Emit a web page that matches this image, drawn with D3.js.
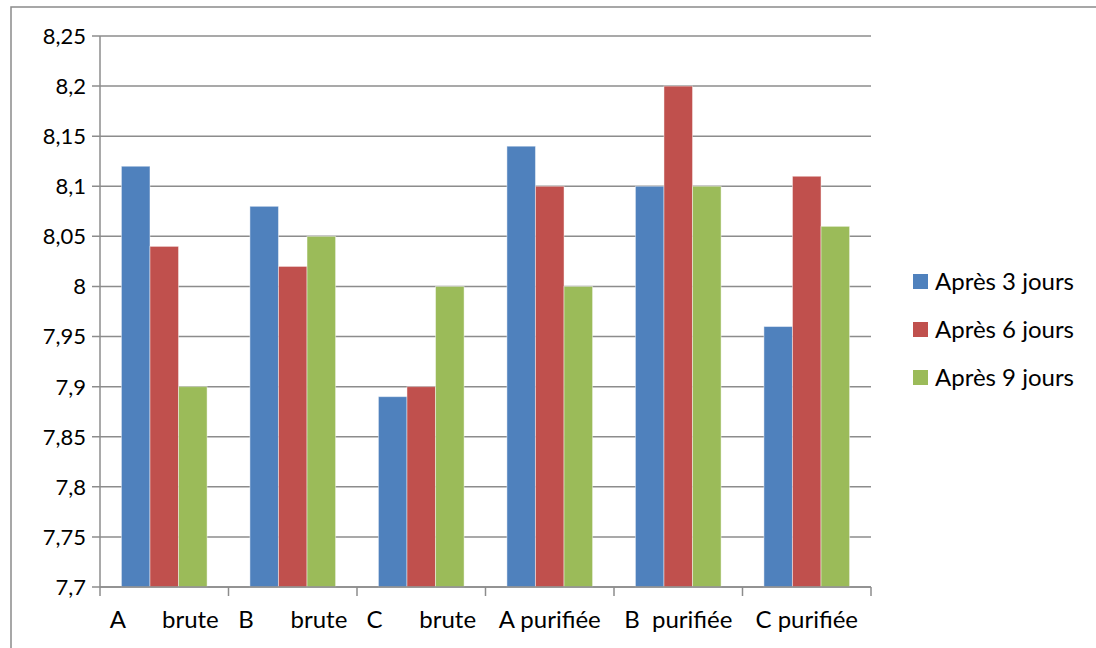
<!DOCTYPE html>
<html><head><meta charset="utf-8">
<script src="https://cdn.jsdelivr.net/npm/d3@7"></script>
<style>body{margin:0;background:#fff}svg{display:block}text{font-family:Lato,"Open Sans",sans-serif;fill:#000}</style>
</head><body>
<svg id="c" width="1096" height="648"></svg>
<script>
const categories = ["A      brute", "B      brute", "C      brute", "A purifiée", "B  purifiée", "C purifiée"];
const seriesNames = ["Après 3 jours", "Après 6 jours", "Après 9 jours"];
const after3 = [8.12, 8.08, 7.89, 8.14, 8.10, 7.96];
const after6 = [8.04, 8.02, 7.90, 8.10, 8.20, 8.11];
const after9 = [7.90, 8.05, 8.00, 8.00, 8.10, 8.06];
const yTicks = [7.7, 7.75, 7.8, 7.85, 7.9, 7.95, 8, 8.05, 8.1, 8.15, 8.2, 8.25];
const colors = ["#4F81BD", "#C0504D", "#9BBB59"];
const series = [after3, after6, after9];

(function(){
const svg = d3.select("#c");
svg.append("rect").attr("x",11).attr("y",7).attr("width",1100).attr("height",700)
  .attr("fill","none").attr("stroke","#8a8a8a").attr("stroke-width",1.5);

const pl=100, pr=871, pt=36, pb=587;
const x = d3.scaleBand().domain(d3.range(categories.length)).range([pl,pr]);
const y = d3.scaleLinear().domain([7.7,8.25]).range([pb,pt]);
const fmt = v => d3.format(".2~f")(v).replace(".",",");

svg.append("g").selectAll("line").data(yTicks).join("line")
  .attr("x1",pl-8).attr("x2",pr).attr("y1",d=>y(d)).attr("y2",d=>y(d))
  .attr("stroke","#8c8c8c").attr("stroke-width",1.5);

const bw = x.bandwidth()/4.5;
const off = x.bandwidth()*0.75/4.5;
series.forEach((s,si)=>{
  svg.append("g").selectAll("rect").data(s).join("rect")
    .attr("x",(d,i)=>x(i)+off+bw*si)
    .attr("y",d=>y(d)).attr("width",bw).attr("height",d=>pb-y(d))
    .attr("fill",colors[si]).attr("stroke","rgba(255,255,255,0.45)").attr("stroke-width",1);
});

svg.append("line").attr("x1",pl).attr("x2",pl).attr("y1",pt).attr("y2",pb)
  .attr("stroke","#8c8c8c").attr("stroke-width",1.5);
svg.append("g").selectAll("text").data(yTicks).join("text")
  .attr("x",86).attr("y",d=>y(d)).attr("dy","0.36em").attr("text-anchor","end")
  .attr("font-size",22).text(fmt);

svg.append("line").attr("x1",pl).attr("x2",pr).attr("y1",pb).attr("y2",pb)
  .attr("stroke","#8c8c8c").attr("stroke-width",1.5);
svg.append("g").selectAll("line").data(d3.range(categories.length+1)).join("line")
  .attr("x1",d=>pl+d*x.bandwidth()).attr("x2",d=>pl+d*x.bandwidth())
  .attr("y1",pb).attr("y2",pb+9).attr("stroke","#8c8c8c").attr("stroke-width",1.5);
svg.append("g").selectAll("text").data(categories).join("text")
  .attr("x",(d,i)=>x(i)+x.bandwidth()/2).attr("y",628).attr("text-anchor","middle")
  .attr("font-size",24).style("white-space","pre").attr("xml:space","preserve").text(d=>d);

const lg = svg.append("g");
seriesNames.forEach((n,i)=>{
  lg.append("rect").attr("x",913).attr("y",274+i*48).attr("width",15).attr("height",15).attr("fill",colors[i]);
  lg.append("text").attr("x",935).attr("y",281.5+i*48).attr("dy","0.36em").attr("font-size",24).text(n);
});
})();
</script>
</body></html>
